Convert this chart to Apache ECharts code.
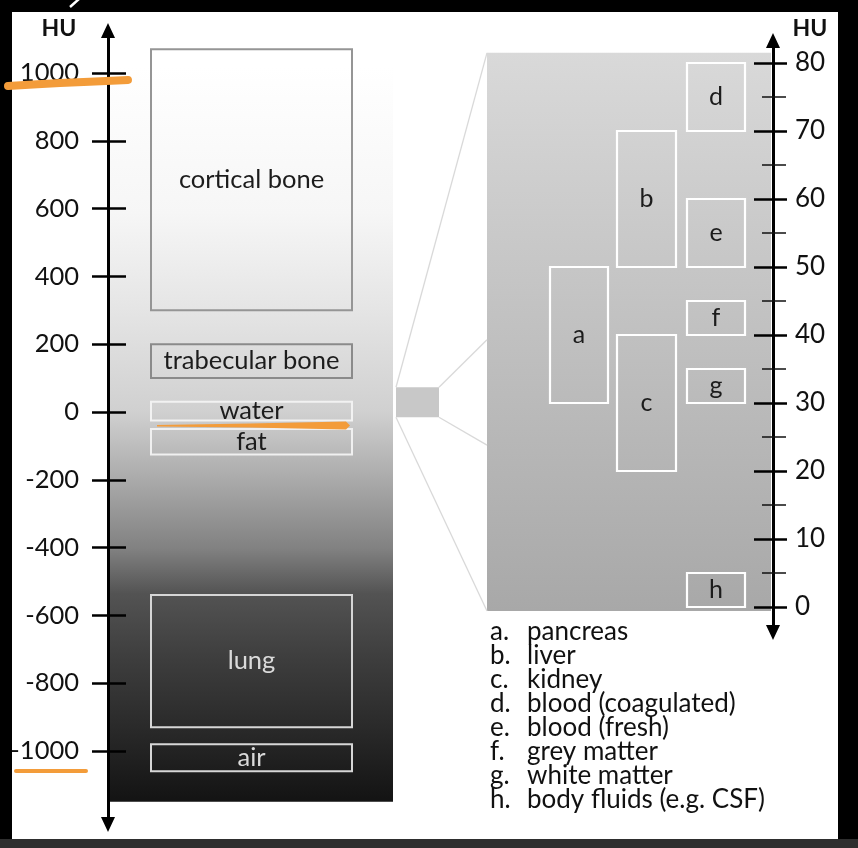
<!DOCTYPE html>
<html>
<head>
<meta charset="utf-8">
<script src="https://cdn.jsdelivr.net/npm/echarts@6/dist/echarts.min.js"></script>
<style>
  html, body { margin: 0; padding: 0; background: #000; }
  #chart { width: 858px; height: 848px; }
</style>
</head>
<body>
<div id="chart"></div>
<script>
// ---------------- DATA ----------------
// Full HU scale (left)
const leftTicks = [-1000, -800, -600, -400, -200, 0, 200, 400, 600, 800, 1000];
const leftTissues = ['cortical bone', 'trabecular bone', 'water', 'fat', 'lung', 'air'];
const leftLow  = [300, 100, -25, -125, -930, -1060];
const leftHigh = [1070, 200, 30, -50, -540, -980];
const leftBackdropRange = [-1150, 1020];
const zoomWindowRange = [-15.5, 73];

// Zoomed HU scale (right)
const zoomMajorTicks = [0, 10, 20, 30, 40, 50, 60, 70, 80];
const zoomMinorTicks = [5, 15, 25, 35, 45, 55, 65, 75];
const zoomLetters = ['a', 'b', 'c', 'd', 'e', 'f', 'g', 'h'];
const zoomNames = ['pancreas', 'liver', 'kidney', 'blood (coagulated)', 'blood (fresh)',
                   'grey matter', 'white matter', 'body fluids (e.g. CSF)'];
const zoomLow  = [30, 50, 20, 70, 50, 40, 30, 0];
const zoomHigh = [50, 70, 40, 80, 60, 45, 35, 5];
const zoomBackdropRange = [-0.6, 81.5];

// ---------------- LAYOUT / STYLE ----------------
const FONT = 'Lato, "Noto Sans", sans-serif';
const L_MIN = -1216.8, L_MAX = 1125.4;
const R_MIN = -3.75, R_MAX = 83.31;
const leftGrid = { left: 108, top: 30.5, width: 285, height: 794 };
const rightGrid = { left: 487, top: 40.5, width: 286, height: 592 };
const leftBoxX = [43, 244];
const leftBoxStyle = [
  { stroke: '#959595', text: '#1c1c1c' },
  { stroke: '#8a8a8a', text: '#1c1c1c' },
  { stroke: '#f2f2f2', text: '#1c1c1c' },
  { stroke: '#f0f0f0', text: '#1c1c1c' },
  { stroke: '#d6d6d6', text: '#dadada' },
  { stroke: '#d6d6d6', text: '#dadada' }
];
const zoomCols = [0, 1, 1, 2, 2, 2, 2, 2];      // column each box sits in
const zoomColX = [[63, 121], [130, 189], [200, 258]];
const markerX = [288, 331];

const chart = echarts.init(document.getElementById('chart'), null, { renderer: 'canvas' });

function yAxisBase(grid, min, max, pos) {
  return { gridIndex: grid, type: 'value', min: min, max: max, position: pos, z: 10,
           splitLine: { show: false }, axisLine: { show: false, onZero: false },
           axisLabel: { show: false }, axisTick: { show: false } };
}

const yAxes = [];
// 0: left main axis with labels, outside ticks and arrows
yAxes.push(Object.assign(yAxisBase(0, L_MIN, L_MAX, 'left'), {
  axisLine: { show: true, onZero: false, lineStyle: { color: '#000', width: 3 },
              symbol: ['triangle', 'triangle'], symbolSize: [14, 15] },
  axisTick: { show: true, inside: false, length: 16, customValues: leftTicks,
              lineStyle: { color: '#000', width: 2.5 } },
  axisLabel: { show: true, customValues: leftTicks, margin: 29, color: '#111',
               fontSize: 25.5, fontFamily: FONT, formatter: v => String(v) }
}));
// 1: left inside ticks
yAxes.push(Object.assign(yAxisBase(0, L_MIN, L_MAX, 'left'), {
  axisTick: { show: true, inside: true, length: 18, customValues: leftTicks,
              lineStyle: { color: '#000', width: 2.5 } }
}));
// 2: right main axis
yAxes.push(Object.assign(yAxisBase(1, R_MIN, R_MAX, 'right'), {
  axisLine: { show: true, onZero: false, lineStyle: { color: '#000', width: 3 },
              symbol: ['triangle', 'triangle'], symbolSize: [14, 15] },
  axisTick: { show: true, inside: false, length: 14, customValues: zoomMajorTicks,
              lineStyle: { color: '#000', width: 2.5 } },
  axisLabel: { show: true, customValues: zoomMajorTicks, margin: 22, color: '#111',
               fontSize: 26, fontFamily: FONT, formatter: v => String(v) }
}));
// 3: right major inside
yAxes.push(Object.assign(yAxisBase(1, R_MIN, R_MAX, 'right'), {
  axisTick: { show: true, inside: true, length: 19, customValues: zoomMajorTicks,
              lineStyle: { color: '#000', width: 2.5 } }
}));
// 4: right minor outside
yAxes.push(Object.assign(yAxisBase(1, R_MIN, R_MAX, 'right'), {
  axisTick: { show: true, inside: false, length: 13, customValues: zoomMinorTicks,
              lineStyle: { color: '#111', width: 1.5 } }
}));
// 5: right minor inside
yAxes.push(Object.assign(yAxisBase(1, R_MIN, R_MAX, 'right'), {
  axisTick: { show: true, inside: true, length: 11, customValues: zoomMinorTicks,
              lineStyle: { color: '#111', width: 1.5 } }
}));

function rangeRect(api, lo, hi) {
  const top = api.coord([0, hi])[1];
  const bot = api.coord([0, lo])[1];
  return { top: top, bot: bot };
}

const leftGradient = new echarts.graphic.LinearGradient(0, 0, 0, 1, [
  { offset: 0, color: '#ffffff' },
  { offset: 0.2, color: '#f6f6f6' },
  { offset: 0.33, color: '#e5e5e5' },
  { offset: 0.47, color: '#d0d0d0' },
  { offset: 0.5625, color: '#aaaaaa' },
  { offset: 0.656, color: '#818181' },
  { offset: 0.717, color: '#535353' },
  { offset: 0.807, color: '#3d3d3d' },
  { offset: 0.898, color: '#2a2a2a' },
  { offset: 1, color: '#131313' }
]);
const rightGradient = new echarts.graphic.LinearGradient(0, 0, 0, 1, [
  { offset: 0, color: '#d9d9d9' },
  { offset: 1, color: '#a8a8a8' }
]);

const series = [
  { // left backdrop gradient
    type: 'custom', xAxisIndex: 0, yAxisIndex: 0, z: 1, silent: true,
    data: [[0, leftBackdropRange[0], leftBackdropRange[1]]],
    renderItem: function (params, api) {
      const r = rangeRect(api, api.value(1), api.value(2));
      const cs = params.coordSys;
      return { type: 'rect', shape: { x: cs.x, y: r.top, width: cs.width, height: r.bot - r.top },
               style: { fill: leftGradient } };
    }
  },
  { // left tissue boxes
    type: 'custom', xAxisIndex: 0, yAxisIndex: 0, z: 3, silent: true,
    data: leftTissues.map((n, i) => [i, leftLow[i], leftHigh[i]]),
    renderItem: function (params, api) {
      const i = params.dataIndex;
      const r = rangeRect(api, api.value(1), api.value(2));
      const cs = params.coordSys;
      const x0 = cs.x + leftBoxX[0], x1 = cs.x + leftBoxX[1];
      const st = leftBoxStyle[i];
      return { type: 'group', children: [
        { type: 'rect', shape: { x: x0, y: r.top, width: x1 - x0, height: r.bot - r.top },
          style: { fill: 'none', stroke: st.stroke, lineWidth: 2 } },
        { type: 'text', x: (x0 + x1) / 2, y: (r.top + r.bot) / 2,
          style: { text: leftTissues[i], fill: st.text, font: '25.5px ' + FONT,
                   align: 'center', verticalAlign: 'middle' } }
      ] };
    }
  },
  { // zoom window marker on left scale
    type: 'custom', xAxisIndex: 0, yAxisIndex: 0, z: 3, silent: true,
    data: [[0, zoomWindowRange[0], zoomWindowRange[1]]],
    renderItem: function (params, api) {
      const r = rangeRect(api, api.value(1), api.value(2));
      const cs = params.coordSys;
      return { type: 'rect', shape: { x: cs.x + markerX[0], y: r.top, width: markerX[1] - markerX[0], height: r.bot - r.top },
               style: { fill: '#c8c8c8' } };
    }
  },
  { // right panel backdrop
    type: 'custom', xAxisIndex: 1, yAxisIndex: 2, z: 1, silent: true,
    data: [[0, zoomBackdropRange[0], zoomBackdropRange[1]]],
    renderItem: function (params, api) {
      const r = rangeRect(api, api.value(1), api.value(2));
      const cs = params.coordSys;
      return { type: 'rect', shape: { x: cs.x, y: r.top, width: cs.width - 2, height: r.bot - r.top },
               style: { fill: rightGradient } };
    }
  },
  { // right tissue boxes
    type: 'custom', xAxisIndex: 1, yAxisIndex: 2, z: 3, silent: true,
    data: zoomLetters.map((n, i) => [i, zoomLow[i], zoomHigh[i]]),
    renderItem: function (params, api) {
      const i = params.dataIndex;
      const r = rangeRect(api, api.value(1), api.value(2));
      const cs = params.coordSys;
      const cx = zoomColX[zoomCols[i]];
      const x0 = cs.x + cx[0], x1 = cs.x + cx[1];
      return { type: 'group', children: [
        { type: 'rect', shape: { x: x0, y: r.top, width: x1 - x0, height: r.bot - r.top },
          style: { fill: 'none', stroke: '#ffffff', lineWidth: 2.2 } },
        { type: 'text', x: (x0 + x1) / 2, y: (r.top + r.bot) / 2,
          style: { text: zoomLetters[i], fill: '#1c1c1c', font: '25px ' + FONT,
                   align: 'center', verticalAlign: 'middle' } }
      ] };
    }
  }
];

const staticGraphics = [
  { type: 'rect', z: -100, shape: { x: 12, y: 12, width: 826, height: 827 }, style: { fill: '#ffffff' } },
  { type: 'rect', z: -100, shape: { x: 0, y: 839, width: 858, height: 9 }, style: { fill: '#2e2e2e' } },
  { type: 'line', z: -100, shape: { x1: 70, y1: 7, x2: 79, y2: -1 }, style: { stroke: '#ffffff', lineWidth: 2.5 } },
  { type: 'text', z: 50, x: 59, y: 29, style: { text: 'HU', font: 'bold 23px ' + FONT, fill: '#111', align: 'center', verticalAlign: 'middle' } },
  { type: 'text', z: 50, x: 810, y: 29, style: { text: 'HU', font: 'bold 23px ' + FONT, fill: '#111', align: 'center', verticalAlign: 'middle' } },
  { type: 'text', z: 50, x: 490, y: 620, style: { text: zoomLetters.map(l => l + '.').join('\n'), font: '26px ' + FONT, lineHeight: 24, fill: '#111', align: 'left', verticalAlign: 'top' } },
  { type: 'text', z: 50, x: 527, y: 620, style: { text: zoomNames.join('\n'), font: '26px ' + FONT, lineHeight: 24, fill: '#111', align: 'left', verticalAlign: 'top' } },
  // orange handwritten annotations
  { type: 'polyline', z: 100, shape: { points: [[8, 86], [60, 83], [128, 80]], smooth: 0.3 }, style: { stroke: '#f39c3a', lineWidth: 8, lineCap: 'round', fill: 'none' } },
  { type: 'polygon', z: 100, shape: { points: [[157, 425], [250, 423.5], [346, 421.5], [350, 425.5], [346, 429.5], [250, 427.5], [157, 426.5]] }, style: { fill: '#f39c3a' } },
  { type: 'line', z: 100, shape: { x1: 16, y1: 771, x2: 86, y2: 771 }, style: { stroke: '#f39c3a', lineWidth: 4, lineCap: 'round' } }
];

chart.setOption({
  backgroundColor: '#000000',
  animation: false,
  grid: [
    Object.assign({ containLabel: false }, leftGrid),
    Object.assign({ containLabel: false }, rightGrid)
  ],
  xAxis: [
    { gridIndex: 0, type: 'value', min: 0, max: 1, show: false },
    { gridIndex: 1, type: 'value', min: 0, max: 1, show: false }
  ],
  yAxis: yAxes,
  series: series,
  graphic: staticGraphics
});

// connector lines between the zoom marker and the zoomed panel
const py = (ai, v) => chart.convertToPixel({ yAxisIndex: ai }, v);
const mxL = leftGrid.left + markerX[0], mxR = leftGrid.left + markerX[1];
const mTop = py(0, zoomWindowRange[1]), mBot = py(0, zoomWindowRange[0]);
const pX = rightGrid.left;
const pTop = py(2, zoomBackdropRange[1]), pBot = py(2, zoomBackdropRange[0]);
const pMidA = py(2, 39.3), pMidB = py(2, 23.8);
const lineStyle = { stroke: '#d9d9d9', lineWidth: 1.3 };
chart.setOption({
  graphic: staticGraphics.concat([
    { type: 'line', z: 5, shape: { x1: mxL, y1: mTop, x2: pX, y2: pTop }, style: lineStyle },
    { type: 'line', z: 5, shape: { x1: mxR, y1: mTop, x2: pX, y2: pMidA }, style: lineStyle },
    { type: 'line', z: 5, shape: { x1: mxR, y1: mBot, x2: pX, y2: pMidB }, style: lineStyle },
    { type: 'line', z: 5, shape: { x1: mxL, y1: mBot, x2: pX, y2: pBot }, style: lineStyle }
  ])
}, { replaceMerge: ['graphic'] });
</script>
</body>
</html>
